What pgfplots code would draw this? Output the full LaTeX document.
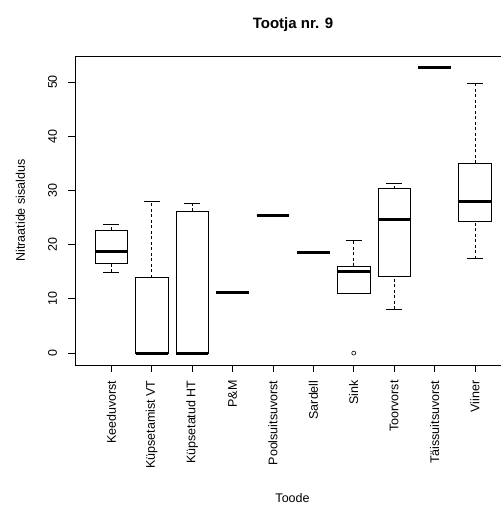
\documentclass[border=0pt]{standalone}
\usepackage{fontspec}
\setmainfont{Liberation Sans}
\usepackage{pgfplots}
\pgfplotsset{compat=1.18}
\usepgfplotslibrary{statistics}
\pgfplotsset{
  boxplot/draw direction=y,
  boxplot/box extend=0.8,
  boxplot/whisker extend=0.4,
  boxplot/every median/.style={line width=3bp},
  boxplot/draw/lower whisker/.code={%
    \draw[dash pattern=on 3bp off 2.5bp] (boxplot cs:\pgfplotsboxplotvalue{lower whisker}) -- (boxplot cs:\pgfplotsboxplotvalue{lower quartile});
    \draw (boxplot whisker cs:\pgfplotsboxplotvalue{lower whisker},0) -- (boxplot whisker cs:\pgfplotsboxplotvalue{lower whisker},1);
  },
  boxplot/draw/upper whisker/.code={%
    \draw[dash pattern=on 3bp off 2.5bp] (boxplot cs:\pgfplotsboxplotvalue{upper quartile}) -- (boxplot cs:\pgfplotsboxplotvalue{upper whisker});
    \draw (boxplot whisker cs:\pgfplotsboxplotvalue{upper whisker},0) -- (boxplot whisker cs:\pgfplotsboxplotvalue{upper whisker},1);
  },
  bx/.style={black, solid, line width=0.8bp, fill=none},
}
\begin{document}
\begin{tikzpicture}
\begin{axis}[
  width=426bp, height=309bp, scale only axis,
  xmin=0.1, xmax=10.645, ymin=-2.2, ymax=54.8,
  axis x line=box, axis y line=left,
  axis line style={-, line width=0.8bp, black},
  tick pos=left,
  tick align=outside,
  major tick length=7bp,
  tick style={line width=0.8bp, black},
  xtick={1,...,10},
  xticklabels={Keeduvorst, Küpsetamist VT, Küpsetatud HT, P\&M, Poolsuitsuvorst, Sardell, Sink, Toorvorst, Täissuitsuvorst, Viiner},
  ytick={0,10,20,30,40,50},
  /pgf/number format/assume math mode=true,
  tick label style={font=\fontsize{12.5bp}{15bp}\selectfont},
  xticklabel style={rotate=90, anchor=east},
  yticklabel style={rotate=90, anchor=base},
  xticklabel shift=5bp,
  yticklabel shift=11bp,
  title={Tootja nr. 9},
  xlabel={Toode},
  ylabel={Nitraatide sisaldus},
  every axis title/.style={at={(rel axis cs:0.5117,1.089)}, anchor=base, font=\bfseries\fontsize{15bp}{18bp}\selectfont},
  every axis x label/.style={at={(rel axis cs:0.5106,-0.4466)}, anchor=base, font=\fontsize{12.5bp}{15bp}\selectfont},
  every axis y label/.style={at={(rel axis cs:-0.1174,0.5)}, rotate=90, anchor=base, font=\fontsize{12.5bp}{15bp}\selectfont},
]
\coordinate (bl) at (rel axis cs:0,0);
\addplot[bx, boxplot prepared={draw direction=y, draw position=1, lower whisker=14.9, lower quartile=16.6, median=18.7, upper quartile=22.7, upper whisker=23.8}] coordinates {};
\addplot[bx, boxplot prepared={draw direction=y, draw position=2, lower whisker=0, lower quartile=0, median=0, upper quartile=13.9, upper whisker=27.9}] coordinates {};
\addplot[bx, boxplot prepared={draw direction=y, draw position=3, lower whisker=0, lower quartile=0, median=0, upper quartile=26.2, upper whisker=27.6}] coordinates {};
\addplot[bx, boxplot prepared={draw direction=y, draw position=4, lower whisker=11.1, lower quartile=11.1, median=11.1, upper quartile=11.1, upper whisker=11.1}] coordinates {};
\addplot[bx, boxplot prepared={draw direction=y, draw position=5, lower whisker=25.4, lower quartile=25.4, median=25.4, upper quartile=25.4, upper whisker=25.4}] coordinates {};
\addplot[bx, boxplot prepared={draw direction=y, draw position=6, lower whisker=18.6, lower quartile=18.6, median=18.6, upper quartile=18.6, upper whisker=18.6}] coordinates {};
\addplot[bx, mark=o, mark size=2bp, mark options={solid, line width=0.6bp}, boxplot prepared={draw direction=y, draw position=7, lower whisker=11.1, lower quartile=11.1, median=15.0, upper quartile=16.0, upper whisker=20.7}] coordinates {(0,0)};
\addplot[bx, boxplot prepared={draw direction=y, draw position=8, lower whisker=8.1, lower quartile=14.1, median=24.7, upper quartile=30.3, upper whisker=31.3}] coordinates {};
\addplot[bx, boxplot prepared={draw direction=y, draw position=9, lower whisker=52.7, lower quartile=52.7, median=52.7, upper quartile=52.7, upper whisker=52.7}] coordinates {};
\addplot[bx, boxplot prepared={draw direction=y, draw position=10, lower whisker=17.4, lower quartile=24.2, median=27.9, upper quartile=35.0, upper whisker=49.8}] coordinates {};
\end{axis}
\pgfresetboundingbox
\useasboundingbox ([xshift=-75bp,yshift=-140bp]bl) rectangle ([xshift=426bp,yshift=365bp]bl);
\end{tikzpicture}
\end{document}
